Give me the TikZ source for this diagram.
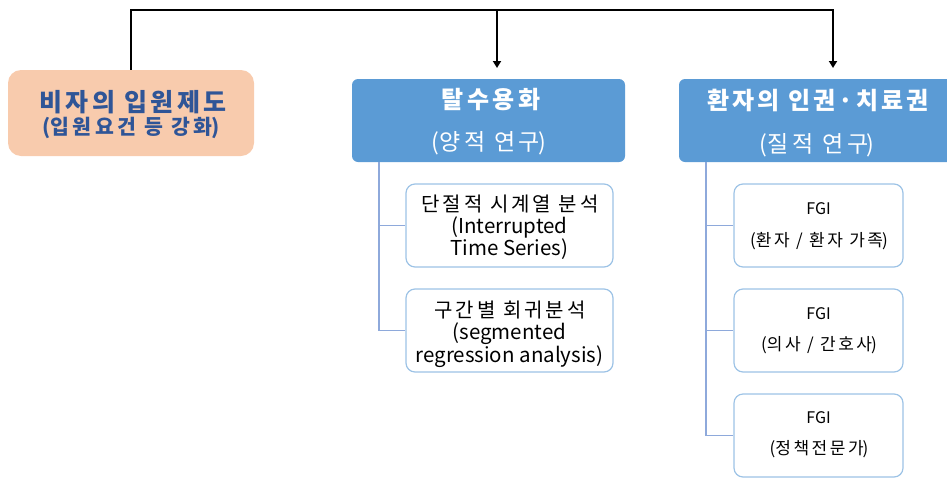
\documentclass[tikz,border=0pt]{standalone}
\usepackage{fontspec}
\setmainfont{Noto Sans CJK KR}
\newcommand{\ls}[1]{\addfontfeature{LetterSpace=#1}}
\newcommand{\pls}[2]{({\ls{#1}#2\kern-#1\dimexpr0.004em\relax})}
\usetikzlibrary{arrows.meta}
\definecolor{peach}{HTML}{F8CBAD}
\definecolor{navy}{HTML}{2F5597}
\definecolor{mblue}{HTML}{5B9BD5}
\definecolor{lblue}{HTML}{9DC3E6}
\definecolor{tline}{HTML}{8EA9DB}
\tikzset{
  peachbox/.style={fill=peach, rounded corners=13pt, draw=none},
  bluebox/.style={fill=mblue, rounded corners=6pt, draw=none},
  subbox/.style={draw=lblue, line width=1.2pt, fill=white, rounded corners=9pt},
  txt/.style={inner sep=0pt, align=center},
  mainline/.style={line width=1.8pt, black},
  arr/.style={mainline, -{Triangle[width=8pt,length=7pt]}},
  treeline/.style={draw=tline, line width=1.1pt},
  kosub/.style={txt, font=\fontsize{20}{22}\selectfont\ls{15}},
  ensub/.style={txt, font=\fontsize{20.5}{21}\selectfont},
  fgi/.style={txt, font=\fontsize{16}{18}\selectfont},
  fgiko/.style={txt, font=\fontsize{17}{19}\selectfont},
}
\begin{document}
\begin{tikzpicture}[x=1pt,y=-1pt]
\useasboundingbox (0,0) rectangle (947,477);
% boxes
\draw[peachbox] (8,70) rectangle (254,156);
\node (peach) at (131,113) [minimum width=246pt, minimum height=86pt, inner sep=0pt] {};
\node[txt, text=navy, font=\bfseries\fontsize{25}{27}\selectfont\ls{14}] (p1) at (133,102) {비자의 입원제도};
\node[txt, text=navy, font=\bfseries\fontsize{20.5}{22}\selectfont] (p2) at (131,128) {\pls{17}{입원요건 등 강화}};

\draw[bluebox] (352,79) rectangle (625,162);
\node (qa) at (488.5,120.5) [minimum width=273pt, minimum height=83pt, inner sep=0pt] {};
\node[txt, text=white, font=\bfseries\fontsize{24}{26}\selectfont\ls{16}] (qa1) at (491,100) {탈수용화};
\node[txt, text=white, font=\fontsize{23}{25}\selectfont] (qa2) at (489,143) {\pls{16}{양적 연구}};

\draw[bluebox] (679,79) rectangle (955,162);
\node (ql) at (817,120.5) [minimum width=276pt, minimum height=83pt, inner sep=0pt] {};
\node[txt, text=white, font=\bfseries\fontsize{24}{26}\selectfont\ls{13}] (ql1) at (818,100) {환자의 인권·치료권};
\node[txt, text=white, font=\fontsize{23}{25}\selectfont] (ql2) at (817,145) {\pls{16}{질적 연구}};

% sub boxes (quantitative)
\node[subbox, minimum width=207pt, minimum height=83pt, inner sep=0pt] (s1) at (509.5,225.5) {};
\node[kosub] at (510,204) {단절적 시계열 분석};
\node[ensub] at (509.5,238) {(Interrupted\\Time Series)};
\node[subbox, minimum width=207pt, minimum height=83pt, inner sep=0pt] (s2) at (509.5,330.5) {};
\node[kosub] at (510,310) {구간별 회귀분석};
\node[ensub] at (509.5,345) {(segmented\\regression analysis)};

% sub boxes (qualitative)
\node[subbox, minimum width=169pt, minimum height=83pt, inner sep=0pt] (f1) at (818.5,225.5) {};
\node[fgi] at (818.5,209) {FGI};
\node[fgiko] at (819,241) {\pls{15}{환자 / 환자 가족}};
\node[subbox, minimum width=169pt, minimum height=83pt, inner sep=0pt] (f2) at (818.5,330.5) {};
\node[fgi] at (818.5,314) {FGI};
\node[fgiko] at (819,345) {\pls{15}{의사 / 간호사}};
\node[subbox, minimum width=169pt, minimum height=83pt, inner sep=0pt] (f3) at (818.5,435.5) {};
\node[fgi] at (818.5,418) {FGI};
\node[fgiko] at (819,449) {\pls{15}{정책전문가}};

% main connectors
\coordinate (top) at (131,10);
\coordinate (a1) at (497,68);
\coordinate (a2) at (833,68);
\draw[mainline] (peach.north) -- (top) -- (top -| a2) -- ++(0,1);
\draw[arr] (top -| a1) -- (a1);
\draw[arr] (top -| a2) -- (a2);

% tree connectors
\coordinate (t1) at (379,162);
\coordinate (t2) at (706,162);
\draw[treeline] (t1) |- (s2.west);
\draw[treeline] (t1 |- s1.west) -- (s1.west);
\draw[treeline] (t2) |- (f3.west);
\draw[treeline] (t2 |- f1.west) -- (f1.west);
\draw[treeline] (t2 |- f2.west) -- (f2.west);
\end{tikzpicture}
\end{document}
